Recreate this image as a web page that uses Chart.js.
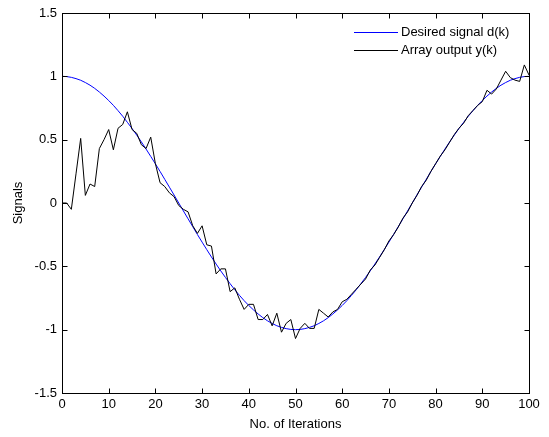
<!DOCTYPE html>
<html>
<head>
<meta charset="utf-8">
<script src="https://cdn.jsdelivr.net/npm/chart.js@4"></script>
<style>
  body { margin: 0; background: #fff; }
  #wrap { width: 549px; height: 437px; }
</style>
</head>
<body>
<div id="wrap"><canvas id="myChart" width="549" height="437"></canvas></div>
<script>
// x axis: iteration index 0..100
const iterations = Array.from({ length: 101 }, (_, i) => i);

// desired signal d(k)
const desired = [
    1.000, 0.998, 0.992, 0.982, 0.969, 0.951, 0.930, 0.905, 0.876, 0.844,
    0.809, 0.771, 0.729, 0.685, 0.637, 0.588, 0.536, 0.482, 0.426, 0.368,
    0.309, 0.249, 0.187, 0.125, 0.063, 0.000, -0.063, -0.125, -0.187, -0.249,
    -0.309, -0.368, -0.426, -0.482, -0.536, -0.588, -0.637, -0.685, -0.729, -0.771,
    -0.809, -0.844, -0.876, -0.905, -0.930, -0.951, -0.969, -0.982, -0.992, -0.998,
    -1.000, -0.998, -0.992, -0.982, -0.969, -0.951, -0.930, -0.905, -0.876, -0.844,
    -0.809, -0.771, -0.729, -0.685, -0.637, -0.588, -0.536, -0.482, -0.426, -0.368,
    -0.309, -0.249, -0.187, -0.125, -0.063, 0.000, 0.063, 0.125, 0.187, 0.249,
    0.309, 0.368, 0.426, 0.482, 0.536, 0.588, 0.637, 0.685, 0.729, 0.771,
    0.809, 0.844, 0.876, 0.905, 0.930, 0.951, 0.969, 0.982, 0.992, 0.998,
    1.000
];

// array output y(k)
const arrayOutput = [
    0.00, 0.00, -0.05, 0.23, 0.51, 0.06, 0.15, 0.13, 0.43, 0.50,
    0.58, 0.42, 0.59, 0.62, 0.72, 0.58, 0.55, 0.46, 0.43, 0.52,
    0.31, 0.16, 0.13, 0.08, 0.05, -0.02, -0.05, -0.07, -0.18, -0.24,
    -0.18, -0.33, -0.34, -0.56, -0.52, -0.52, -0.70, -0.67, -0.76, -0.84,
    -0.80, -0.80, -0.92, -0.92, -0.88, -0.97, -0.87, -1.02, -0.95, -0.92,
    -1.07, -0.99, -0.95, -0.99, -0.99, -0.84, -0.87, -0.90, -0.86, -0.84,
    -0.78, -0.76, -0.72, -0.68, -0.64, -0.60, -0.53, -0.49, -0.43, -0.37,
    -0.30, -0.25, -0.19, -0.12, -0.07, 0.00, 0.06, 0.13, 0.18, 0.25,
    0.31, 0.37, 0.42, 0.48, 0.54, 0.59, 0.63, 0.69, 0.73, 0.77,
    0.80, 0.89, 0.86, 0.90, 0.97, 1.04, 0.99, 0.97, 0.96, 1.09,
    1.01
];

const xTicks = [0, 10, 20, 30, 40, 50, 60, 70, 80, 90, 100];
const yTicks = [-1.5, -1, -0.5, 0, 0.5, 1, 1.5];
const yTickLabels = ['-1.5', '-1', '-0.5', '0', '0.5', '1', '1.5'];

const font = { family: 'Arial, "Liberation Sans", sans-serif', size: 13 };

// matlab style box, inward ticks, legend inside the axes
const matlabAxes = {
    id: 'matlabAxes',
    afterDraw(chart) {
        const ctx = chart.ctx;
        const a = chart.chartArea;
        const xs = chart.scales.x, ys = chart.scales.y;
        const L = Math.round(a.left) + 0.5, R = Math.round(a.right) + 0.5;
        const T = Math.round(a.top) + 0.5, B = Math.round(a.bottom) + 0.5;
        const len = 5;
        ctx.save();
        ctx.strokeStyle = '#000';
        ctx.lineWidth = 1;
        ctx.beginPath();
        xTicks.forEach(v => {
            const px = Math.round(xs.getPixelForValue(v)) + 0.5;
            ctx.moveTo(px, B); ctx.lineTo(px, B - len);
            ctx.moveTo(px, T); ctx.lineTo(px, T + len);
        });
        yTicks.forEach(v => {
            const py = Math.round(ys.getPixelForValue(v)) + 0.5;
            ctx.moveTo(L, py); ctx.lineTo(L + len, py);
            ctx.moveTo(R, py); ctx.lineTo(R - len, py);
        });
        ctx.stroke();
        ctx.strokeRect(L, T, R - L, B - T);

        // legend
        const legendItems = [chart.data.datasets[0], chart.data.datasets[1]];
        ctx.font = font.size + 'px ' + font.family;
        ctx.textBaseline = 'middle';
        ctx.textAlign = 'left';
        legendItems.forEach((ds, i) => {
            const y = Math.round(a.top + 19 + i * 18) + 0.5;
            ctx.strokeStyle = ds.borderColor;
            ctx.beginPath();
            ctx.moveTo(a.right - 175, y);
            ctx.lineTo(a.right - 131, y);
            ctx.stroke();
            ctx.fillStyle = '#000';
            ctx.fillText(ds.label, a.right - 128, y);
        });
        ctx.restore();
    }
};

new Chart(document.getElementById('myChart').getContext('2d'), {
    type: 'line',
    data: {
        labels: iterations,
        datasets: [{
            label: 'Desired signal d(k)',
            data: iterations.map((k, i) => ({ x: k, y: desired[i] })),
            borderColor: '#0000ff',
            borderWidth: 1,
            pointRadius: 0,
            tension: 0,
            order: 1
        }, {
            label: 'Array output y(k)',
            data: iterations.map((k, i) => ({ x: k, y: arrayOutput[i] })),
            borderColor: '#000000',
            borderWidth: 1,
            pointRadius: 0,
            tension: 0,
            order: 0
        }]
    },
    options: {
        responsive: false,
        animation: false,
        devicePixelRatio: 1,
        layout: { padding: { left: 0, top: 13, right: 20, bottom: 0 } },
        plugins: {
            legend: { display: false },
            tooltip: { enabled: false }
        },
        scales: {
            x: {
                type: 'linear',
                min: 0,
                max: 100,
                afterBuildTicks: s => { s.ticks = xTicks.map(v => ({ value: v })); },
                afterFit: s => { s.height = 44; },
                grid: { display: false, drawTicks: false },
                border: { display: false },
                ticks: { color: '#000', font: font, padding: 4, maxRotation: 0 },
                title: {
                    display: true,
                    text: 'No. of Iterations',
                    color: '#000',
                    font: font,
                    padding: { top: 2, bottom: 5 }
                }
            },
            y: {
                type: 'linear',
                min: -1.5,
                max: 1.5,
                afterBuildTicks: s => { s.ticks = yTicks.map(v => ({ value: v })); },
                afterFit: s => { s.width = 62; },
                grid: { display: false, drawTicks: false },
                border: { display: false },
                ticks: {
                    color: '#000',
                    font: font,
                    padding: 5,
                    callback: (v) => yTickLabels[yTicks.indexOf(v)]
                },
                title: {
                    display: true,
                    text: 'Signals',
                    color: '#000',
                    font: font,
                    padding: { top: 11, bottom: 0 }
                }
            }
        }
    },
    plugins: [matlabAxes]
});
</script>
</body>
</html>
